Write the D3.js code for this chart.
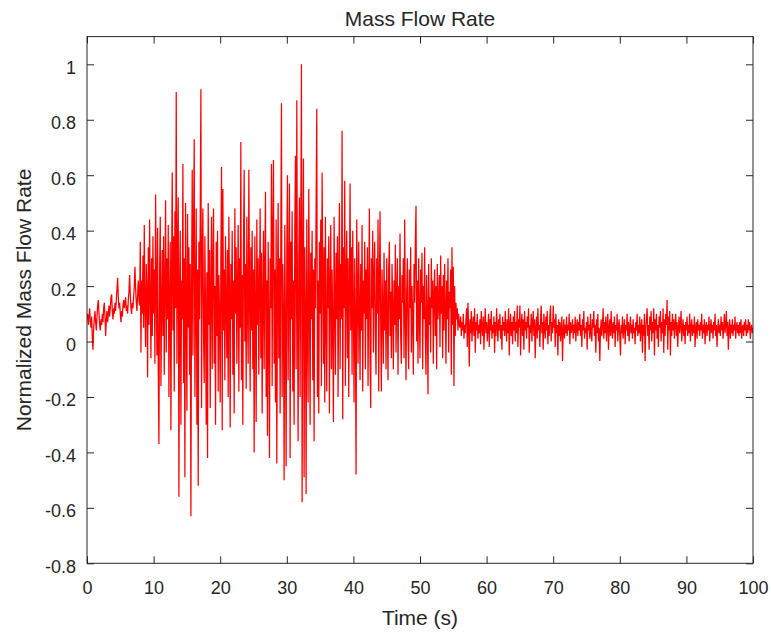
<!DOCTYPE html>
<html>
<head>
<meta charset="utf-8">
<script src="https://cdn.jsdelivr.net/npm/d3@7"></script>
<style>
  body { margin: 0; background: #fff; }
  text { font-family: "Liberation Sans", Arial, sans-serif; fill: #262626; }
</style>
</head>
<body>
<script>
// samples every 0.1 s
var sampleStep = 0.1

// 0 - 7.9 s, quiet start
var flowStart = [
 0.08,0.10,0.06,0.09,0.12,0.07,0.05,0.09,0.01,-0.03,
 0.05,0.08,0.11,0.07,0.04,0.09,0.13,0.15,0.10,0.06,
 0.04,0.08,0.06,0.10,0.07,0.12,0.14,0.09,0.02,0.08,
 0.11,0.07,0.10,0.13,0.09,0.12,0.16,0.17,0.11,0.08,
 0.12,0.10,0.14,0.11,0.15,0.19,0.23,0.16,0.12,0.14,
 0.10,0.07,0.11,0.09,0.13,0.15,0.12,0.14,0.16,0.11,
 0.13,0.10,0.15,0.18,0.24,0.17,0.12,0.10,0.14,0.12,
 0.16,0.20,0.27,0.19,0.14,0.11,0.17,0.22,0.15,0.13
]

// 8 - 55.9 s, strong fluctuations
var flowActive = [
 0.36,-0.04,0.22,0.10,0.31,0.05,0.42,0.12,-0.02,0.28,
 0.18,-0.13,0.34,0.06,0.44,0.15,-0.06,0.30,0.02,0.38,
 0.10,0.26,-0.08,0.53,0.20,-0.05,0.41,-0.10,-0.37,0.24,
 0.45,-0.16,0.12,0.33,0.02,0.38,-0.12,0.21,0.51,-0.04,
 0.30,0.08,0.42,-0.20,0.15,0.36,-0.32,0.26,0.61,0.04,
 0.38,-0.18,0.47,0.12,0.90,-0.08,0.35,0.52,-0.56,0.20,
 0.40,-0.30,0.22,0.08,0.64,-0.15,0.30,-0.49,0.50,0.12,
 -0.25,0.46,0.05,0.34,-0.12,0.28,-0.63,0.18,0.62,-0.05,
 0.40,0.73,-0.20,0.15,0.48,-0.30,0.26,-0.52,0.36,0.08,
 0.44,0.91,-0.24,0.32,0.48,0.02,-0.15,0.38,0.10,-0.30,
 0.25,-0.42,0.50,0.06,0.33,-0.24,0.18,0.45,-0.10,0.28,
 0.48,-0.08,0.20,-0.30,0.36,0.02,0.40,-0.18,0.24,0.10,
 -0.22,0.30,0.63,-0.32,0.55,0.04,0.26,-0.14,0.38,0.12,
 -0.06,0.33,-0.20,0.45,0.16,-0.31,0.28,0.08,0.40,-0.12,
 0.22,-0.26,0.48,0.10,0.34,-0.08,0.20,0.42,-0.18,0.30,
 0.05,0.72,-0.14,0.24,-0.30,0.36,0.62,0.00,0.28,-0.17,
 0.45,0.12,-0.08,0.62,0.20,-0.18,0.34,0.04,0.40,-0.10,
 0.26,-0.40,0.38,0.10,-0.29,0.44,0.06,0.30,-0.12,0.20,
 0.48,-0.06,0.32,-0.26,0.16,0.40,-0.10,0.28,0.54,-0.20,
 0.22,-0.34,0.36,0.06,-0.42,0.30,0.12,0.64,-0.16,0.40,
 0.655,-0.08,0.26,-0.22,0.44,-0.44,0.18,0.50,-0.06,0.30,
 -0.26,0.38,0.86,-0.20,0.28,0.10,-0.50,0.42,0.04,-0.45,
 0.32,0.60,-0.14,0.24,0.57,-0.42,0.36,0.08,0.47,-0.18,
 0.22,-0.30,0.40,0.67,-0.10,0.87,0.14,-0.36,0.30,0.52,
 -0.20,0.40,1.00,-0.58,0.28,0.66,-0.49,0.34,0.10,-0.55,
 0.44,0.04,-0.22,0.55,0.16,-0.30,0.32,0.08,0.40,-0.14,
 0.26,-0.36,0.30,0.12,0.48,0.84,-0.20,0.22,-0.26,0.36,
 0.10,0.44,-0.16,0.61,0.28,-0.08,0.34,-0.22,0.45,0.06,
 -0.18,0.30,0.12,0.38,-0.26,0.20,0.42,-0.10,0.26,0.04,
 -0.29,0.45,0.16,-0.12,0.32,0.08,0.38,-0.20,0.24,0.50,
 -0.10,0.28,0.08,0.76,-0.28,0.34,0.12,0.58,-0.16,0.22,
 0.40,-0.06,0.30,-0.20,0.18,0.57,0.04,0.34,-0.12,0.40,
 0.14,-0.22,0.30,0.06,-0.48,0.44,0.20,-0.08,0.36,0.12,
 -0.14,0.28,0.04,0.42,-0.18,0.22,0.10,0.36,-0.10,0.26,
 0.08,0.34,-0.16,0.20,0.48,-0.06,-0.24,0.30,0.12,0.40,
 -0.04,0.24,0.36,0.02,-0.12,0.30,0.10,0.44,-0.18,0.20,
 0.47,0.06,-0.18,0.26,0.12,-0.08,0.32,0.04,0.22,-0.10,
 0.30,0.10,-0.14,0.26,0.36,0.02,0.18,-0.06,0.28,0.12,
 -0.10,0.22,0.06,0.35,-0.04,0.16,0.30,-0.12,0.20,0.08,
 0.39,0.02,-0.08,0.24,0.14,0.30,-0.06,0.44,0.10,-0.14,
 0.18,0.30,0.02,-0.10,0.26,0.12,0.34,-0.04,0.20,0.08,
 -0.12,0.28,0.14,0.36,0.49,0.00,0.22,-0.08,0.30,0.10,
 -0.06,0.26,0.14,0.32,-0.10,0.20,0.08,0.34,0.02,-0.12,
 0.24,0.10,-0.19,0.28,0.06,0.16,-0.04,0.30,0.12,0.22,
 -0.08,0.18,0.26,0.02,0.20,-0.10,0.28,0.08,0.14,0.24,
 -0.02,0.31,0.10,0.20,-0.06,0.24,0.04,0.28,0.12,-0.08,
 0.22,0.08,0.30,-0.04,0.18,0.12,0.26,-0.12,0.34,0.06,
 0.27,-0.16,0.20,0.02,0.14,0.08,0.12,0.04,0.10,0.06
]

// 56 - 100 s, settled
var flowTail = [
 0.05,0.09,0.02,0.07,0.04,0.10,0.01,0.06,0.03,0.08,
 0.12,-0.02,0.14,0.05,-0.09,0.08,0.03,0.11,0.00,0.06,
 0.09,0.02,0.12,-0.04,0.07,0.04,0.10,0.01,0.06,0.03,
 0.08,-0.01,0.11,0.05,0.02,0.09,-0.03,0.06,0.12,0.03,
 0.07,0.00,0.05,0.10,-0.02,0.08,0.04,0.11,0.01,0.06,
 0.03,0.09,-0.04,0.07,0.02,0.12,0.05,0.00,0.08,0.04,
 0.10,0.01,0.06,-0.03,0.09,0.04,0.07,0.02,0.11,0.05,
 0.00,0.08,0.03,0.12,-0.05,0.06,0.10,0.02,0.07,-0.01,
 0.09,0.04,0.11,0.00,0.07,0.03,0.13,-0.02,0.08,0.05,
 0.13,-0.05,0.06,0.10,0.02,0.08,-0.03,0.11,0.04,0.07,
 0.01,0.09,0.05,0.12,-0.04,0.06,0.03,0.10,0.00,0.07,
 0.11,0.02,0.08,-0.06,0.05,0.09,0.01,0.12,0.04,0.06,
 -0.02,0.08,0.13,0.03,0.07,-0.03,0.10,0.05,0.01,0.09,
 0.04,0.11,-0.01,0.06,0.02,0.09,0.13,0.00,0.07,0.03,
 0.13,0.05,0.08,-0.02,0.10,0.03,0.06,-0.05,0.08,0.02,
 0.07,0.00,0.05,0.09,-0.07,0.04,0.08,0.01,0.06,0.03,
 0.09,0.02,0.06,0.04,0.10,-0.01,0.07,0.03,0.05,0.08,
 0.01,0.06,0.03,0.09,0.00,0.05,0.08,0.02,0.07,0.04,
 0.10,0.02,0.06,-0.02,0.08,0.04,0.11,0.01,0.05,0.03,
 0.07,-0.03,0.09,0.04,0.06,0.01,0.10,0.03,0.00,0.08,
 0.05,0.11,0.02,0.06,-0.04,0.08,0.03,0.10,0.00,0.05,
 -0.07,0.04,0.08,0.02,0.06,0.12,0.01,0.07,0.03,0.09,
 0.00,0.06,0.10,-0.03,0.05,0.08,0.02,0.11,0.04,0.01,
 0.07,0.03,0.09,-0.02,0.06,0.04,0.10,0.00,0.05,0.08,
 0.02,-0.05,0.06,0.03,0.09,0.01,0.05,0.08,-0.01,0.06,
 0.04,0.10,0.02,0.07,0.00,0.05,0.09,0.03,0.06,0.01,
 0.08,0.03,0.05,-0.01,0.07,0.04,0.10,0.02,0.06,0.03,
 0.09,0.00,0.05,0.08,-0.04,0.06,0.02,0.10,-0.07,0.05,
 0.08,0.12,0.02,0.06,-0.03,0.09,0.04,0.11,0.00,0.07,
 0.03,0.12,-0.05,0.08,0.04,0.10,0.01,0.06,-0.02,0.09,
 0.05,0.11,0.00,0.07,0.03,0.12,-0.04,0.08,0.02,0.10,
 0.06,0.15,-0.03,0.09,0.04,0.11,-0.05,0.07,0.02,0.10,
 0.04,0.08,0.01,0.06,0.10,0.02,0.07,-0.02,0.05,0.09,
 0.03,0.06,0.11,0.00,0.05,0.08,0.02,0.06,-0.01,0.07,
 0.04,0.09,0.02,0.06,0.03,0.10,0.00,0.05,0.08,0.02,
 0.06,0.03,0.09,-0.02,0.05,0.07,0.01,0.08,0.04,0.06,
 0.02,0.07,0.04,0.10,0.01,0.06,0.03,0.08,-0.01,0.05,
 0.07,0.02,0.06,0.04,0.09,0.00,0.05,0.08,0.03,0.06,
 0.01,0.07,0.04,0.10,0.02,0.06,-0.02,0.05,0.08,0.03,
 0.06,0.02,0.09,0.04,0.07,0.01,0.05,0.10,0.03,0.06,
 0.11,0.02,0.07,-0.03,0.05,0.08,0.01,0.06,0.03,0.08,
 0.02,0.06,0.04,0.09,0.01,0.05,0.07,0.03,0.06,0.02,
 0.07,0.03,0.08,0.01,0.05,0.06,0.02,0.07,0.04,0.08,
 0.02,0.06,0.03,0.08,0.04,0.07,0.01,0.05,0.06,0.03,
 0.05
]

var xTicks = [0,10,20,30,40,50,60,70,80,90,100]
var yTicks = [-0.8,-0.6,-0.4,-0.2,0,0.2,0.4,0.6,0.8,1]
var yTickLabels = ["-0.8","-0.6","-0.4","-0.2","0","0.2","0.4","0.6","0.8","1"]

var W = 771, H = 633
var margin = {top: 36.6, right: 18, bottom: 69.7, left: 87}
var width = W - margin.left - margin.right,
    height = H - margin.top - margin.bottom

var values = flowStart.concat(flowActive, flowTail)
var data = values.map(function(v, i) { return {t: i * sampleStep, v: v} })

var svg = d3.select("body").append("svg")
    .attr("width", W).attr("height", H)

var g = svg.append("g")
    .attr("transform", "translate(" + margin.left + "," + margin.top + ")")

var x = d3.scaleLinear().domain([0, 100]).range([0, width])
var y = d3.scaleLinear().domain([-0.8, 1.1]).range([height, 0])

g.append("clipPath").attr("id", "clip")
  .append("rect").attr("width", width).attr("height", height)

g.append("path")
    .datum(data)
    .attr("clip-path", "url(#clip)")
    .attr("fill", "none")
    .attr("stroke", "#ff0000")
    .attr("stroke-width", 1.25)
    .attr("d", d3.line().x(d => x(d.t)).y(d => y(d.v)))

var tickLen = 7

// bottom + top
var xb = g.append("g").attr("transform", "translate(0," + height + ")")
    .call(d3.axisBottom(x).tickValues(xTicks).tickSize(-tickLen).tickFormat(d => String(d)))
xb.selectAll("text").attr("y", 30.7).attr("dy", 0).style("font-size", "18px")
var xt = g.append("g")
    .call(d3.axisTop(x).tickValues(xTicks).tickSize(-tickLen).tickFormat(""))

// left + right
var yl = g.append("g")
    .call(d3.axisLeft(y).tickValues(yTicks).tickSize(-tickLen)
      .tickFormat((d, i) => yTickLabels[i]))
yl.selectAll("text").attr("x", -11).attr("dy", 9).style("font-size", "18px")
var yr = g.append("g").attr("transform", "translate(" + width + ",0)")
    .call(d3.axisRight(y).tickValues(yTicks).tickSize(-tickLen).tickFormat(""))

g.selectAll(".domain").remove()
g.selectAll(".tick line").attr("stroke", "#262626")
g.selectAll(".tick text").attr("fill", "#262626").style("font-family", "Liberation Sans, Arial, sans-serif")

g.append("rect")
    .attr("width", width).attr("height", height)
    .attr("fill", "none").attr("stroke", "#262626").attr("stroke-width", 1)

svg.append("text")
    .attr("x", margin.left + width / 2).attr("y", 26)
    .attr("text-anchor", "middle").style("font-size", "21px")
    .text("Mass Flow Rate")

svg.append("text")
    .attr("x", margin.left + width / 2).attr("y", 625)
    .attr("text-anchor", "middle").style("font-size", "21px")
    .text("Time (s)")

svg.append("text")
    .attr("transform", "translate(31," + (margin.top + height / 2) + ") rotate(-90)")
    .attr("text-anchor", "middle").style("font-size", "21px")
    .text("Normalized Mass Flow Rate")
</script>
</body>
</html>
